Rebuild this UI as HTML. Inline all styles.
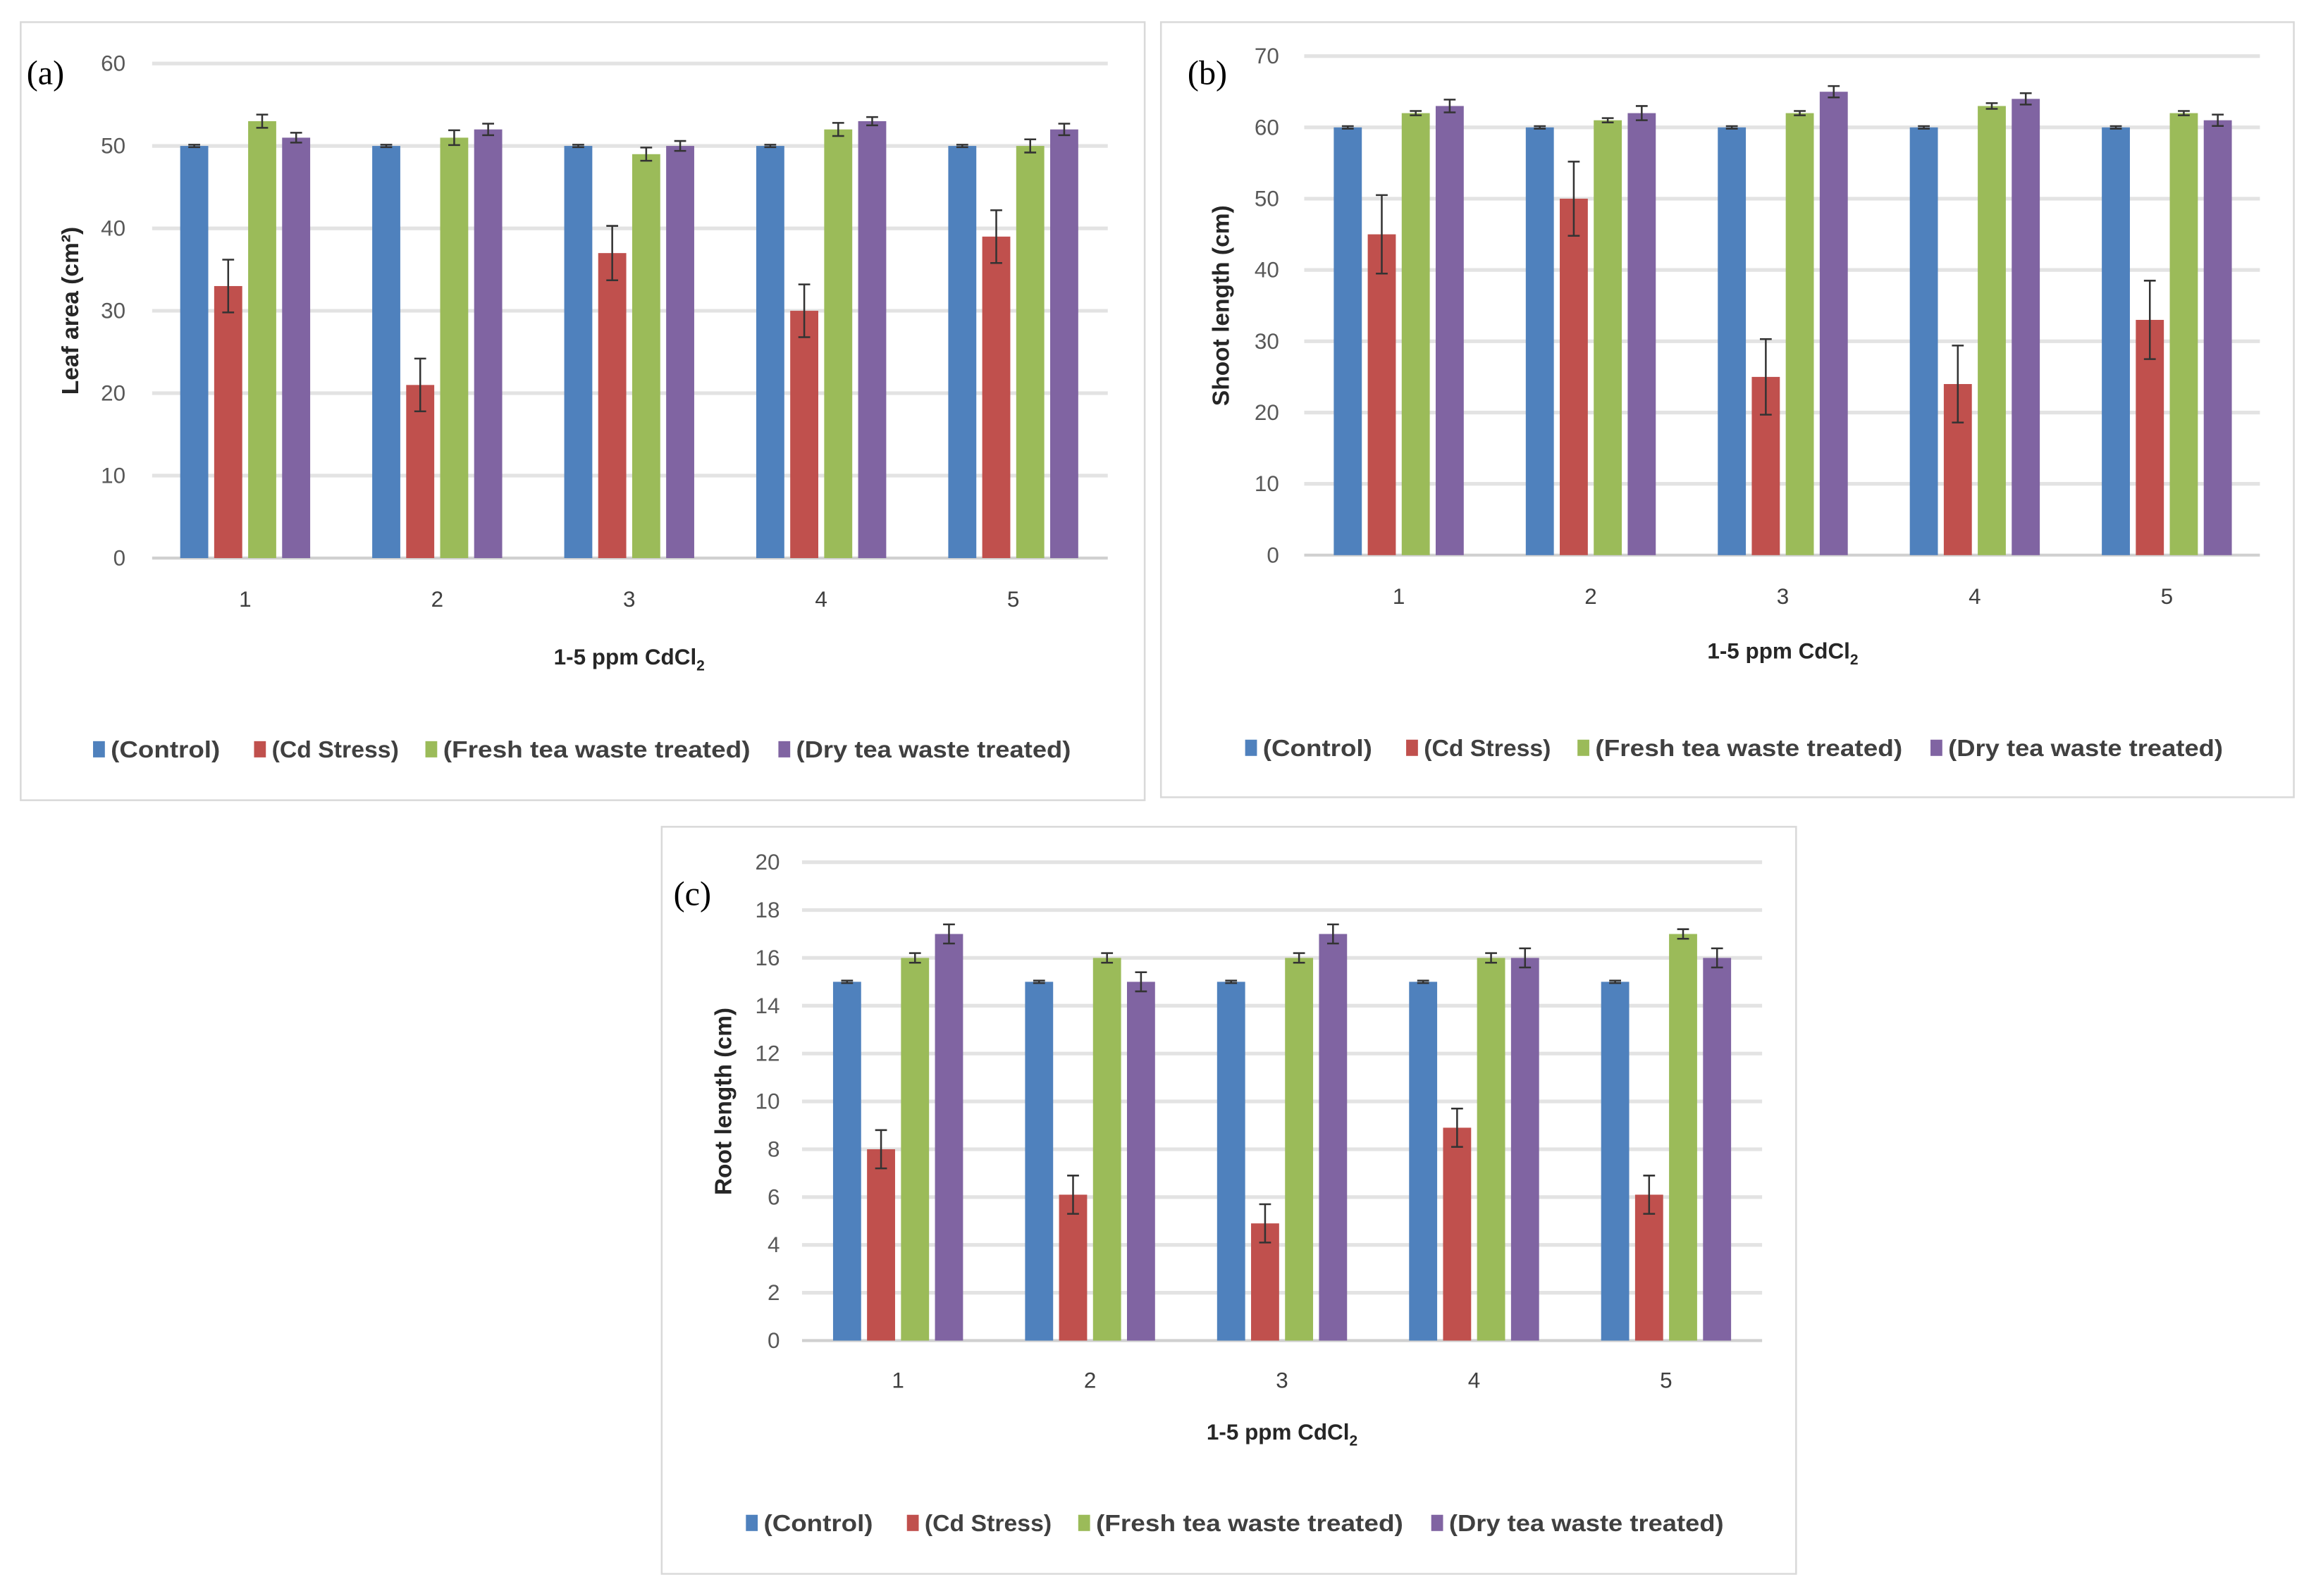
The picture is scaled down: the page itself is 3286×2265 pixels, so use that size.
<!DOCTYPE html>
<html><head><meta charset="utf-8"><style>
html,body{margin:0;padding:0;background:#fff;}
svg{display:block;}
text{font-family:"Liberation Sans",sans-serif;}
</style></head><body>
<svg id="fig" width="3286" height="2265" viewBox="0 0 1568 1081" preserveAspectRatio="none" xmlns="http://www.w3.org/2000/svg">
<rect x="0" y="0" width="1568" height="1081" fill="#fff"/>
</svg>
<script>
const categories = ["1","2","3","4","5"];
const seriesNames = ["(Control)","(Cd Stress)","(Fresh tea waste treated)","(Dry tea waste treated)"];
const colors = ["#4f81bd","#c0504d","#9bbb59","#8064a2"];

const aControl = [50,50,50,50,50];
const aCd = [33,21,37,30,39];
const aFresh = [53,51,49,52,50];
const aDry = [51,52,50,53,52];
const aCdErr = [3.2,3.2,3.3,3.2,3.2];
const aFreshErr = [0.8,0.9,0.8,0.8,0.8];
const aDryErr = [0.6,0.7,0.6,0.5,0.7];
const aTicks = [0,10,20,30,40,50,60];

const bControl = [60,60,60,60,60];
const bCd = [45,50,25,24,33];
const bFresh = [62,61,62,63,62];
const bDry = [63,62,65,64,61];
const bCdErr = [5.5,5.2,5.3,5.4,5.5];
const bFreshErr = [0.3,0.3,0.3,0.4,0.3];
const bDryErr = [0.9,1.0,0.8,0.8,0.8];
const bTicks = [0,10,20,30,40,50,60,70];

const cControl = [15,15,15,15,15];
const cCd = [8,6.1,4.9,8.9,6.1];
const cFresh = [16,16,16,16,17];
const cDry = [17,15,17,16,16];
const cCdErr = [0.8,0.8,0.8,0.8,0.8];
const cFreshErr = [0.2,0.2,0.2,0.2,0.2];
const cDryErr = [0.4,0.4,0.4,0.4,0.4];
const cTicks = [0,2,4,6,8,10,12,14,16,18,20];

const NS="http://www.w3.org/2000/svg";
const svg=document.getElementById('fig');
function mk(tag,attrs,parent){const e=document.createElementNS(NS,tag);for(const k in attrs)e.setAttribute(k,attrs[k]);(parent||svg).appendChild(e);return e;}

function panel(cfg){
  const g=mk('g',{});
  
  
  const frame=mk('rect',{x:cfg.box[0],y:cfg.box[1],width:cfg.box[2],height:cfg.box[3],fill:'#fff',stroke:'#d9d9d9','stroke-width':1.2},g);
  
  
  const max=cfg.ticks[cfg.ticks.length-1];
  const y=v=>cfg.y0-(v/max)*(cfg.y0-cfg.yTop);
  const x=i=>cfg.c1+i*cfg.step;
  cfg.ticks.forEach(t=>{
    const gl=mk('line',{x1:cfg.px0,x2:cfg.px1,y1:y(t),y2:y(t),stroke:t===0?'#d0d0d0':'#e3e3e3','stroke-width':t===0?2:2.5},g);
    
    
    const tl=mk('text',{x:cfg.labX,y:y(t)+5,'text-anchor':'end','font-size':15,fill:'#595959'},g);
    tl.textContent=t;
    
    
  });
  const offs=[-34.5,-11.5,11.5,34.5], bw=19;
  cfg.series.forEach((s,si)=>{
    s.forEach((v,i)=>{
      const cx=x(i)+offs[si];
      const r=mk('rect',{x:cx-bw/2,y:y(v),width:bw,height:cfg.y0-y(v),fill:colors[si]},g);
      
      
      const e=cfg.errs[si]?cfg.errs[si][i]:0.15*max/60;
      const ey1=y(v+e), ey2=y(v-e);
      const el=mk('path',{d:`M${cx},${ey1}V${ey2}M${cx-4},${ey1}H${cx+4}M${cx-4},${ey2}H${cx+4}`,stroke:'#333','stroke-width':1.2,fill:'none'},g);
      
      
    });
  });
  categories.forEach((c,i)=>{
    const t=mk('text',{x:x(i),y:cfg.tickY,'text-anchor':'middle','font-size':15,fill:'#404040'},g);
    t.textContent=c;
    
    
  });
  const xt=mk('text',{x:x(2),y:cfg.xTitleY,'text-anchor':'middle','font-size':15,'font-weight':'bold',fill:'#262626'},g);
  xt.innerHTML='1-5 ppm CdCl<tspan font-size="10" dy="4">2</tspan>';
  
  
  const yt=mk('text',{x:0,y:0,transform:`translate(${cfg.yTitleX},${(cfg.y0+cfg.yTop)/2}) rotate(-90)`,'text-anchor':'middle','font-size':16,'font-weight':'bold',fill:'#262626'},g);
  yt.textContent=cfg.yTitle;
  
  
  const lb=mk('text',{x:cfg.labPos[0],y:cfg.labPos[1],'font-size':23,style:'font-family:"Liberation Serif",serif',fill:'#000'},g);
  lb.textContent=cfg.label;
  
  
  const legX=[0,109,225,464].map(d=>cfg.legX+d);
  seriesNames.forEach((n,si)=>{
    const sw=mk('rect',{x:legX[si],y:cfg.legY-11,width:8,height:11,fill:colors[si]},g);
    
    
    const lt=mk('text',{x:legX[si]+12,y:cfg.legY,'font-size':16,'font-weight':'bold',fill:'#404040',textLength:[74,86,208,186][si],lengthAdjust:'spacingAndGlyphs'},g);
    lt.textContent=n;
    
    
  });
}

panel({id:'leaf-area',box:[14,15,761,527],ticks:aTicks,y0:378,yTop:43,c1:166,step:130,px0:103,px1:750,labX:85,
  series:[aControl,aCd,aFresh,aDry],errs:[null,aCdErr,aFreshErr,aDryErr],tickY:411,xTitleY:450,yTitleX:53,
  yTitle:'Leaf area (cm²)',label:'(a)',labPos:[18,57],legX:63,legY:513});
panel({id:'shoot-length',box:[786,15,767,525],ticks:bTicks,y0:376,yTop:38,c1:947,step:130,px0:883,px1:1530,labX:866,
  series:[bControl,bCd,bFresh,bDry],errs:[null,bCdErr,bFreshErr,bDryErr],tickY:409,xTitleY:446,yTitleX:832,
  yTitle:'Shoot length (cm)',label:'(b)',labPos:[804,57],legX:843,legY:512});
panel({id:'root-length',box:[448,560,768,506],ticks:cTicks,y0:908,yTop:584,c1:608,step:130,px0:543,px1:1193,labX:528,
  series:[cControl,cCd,cFresh,cDry],errs:[null,cCdErr,cFreshErr,cDryErr],tickY:940,xTitleY:975,yTitleX:495,
  yTitle:'Root length (cm)',label:'(c)',labPos:[456,613],legX:505,legY:1037});
</script>
</body></html>
